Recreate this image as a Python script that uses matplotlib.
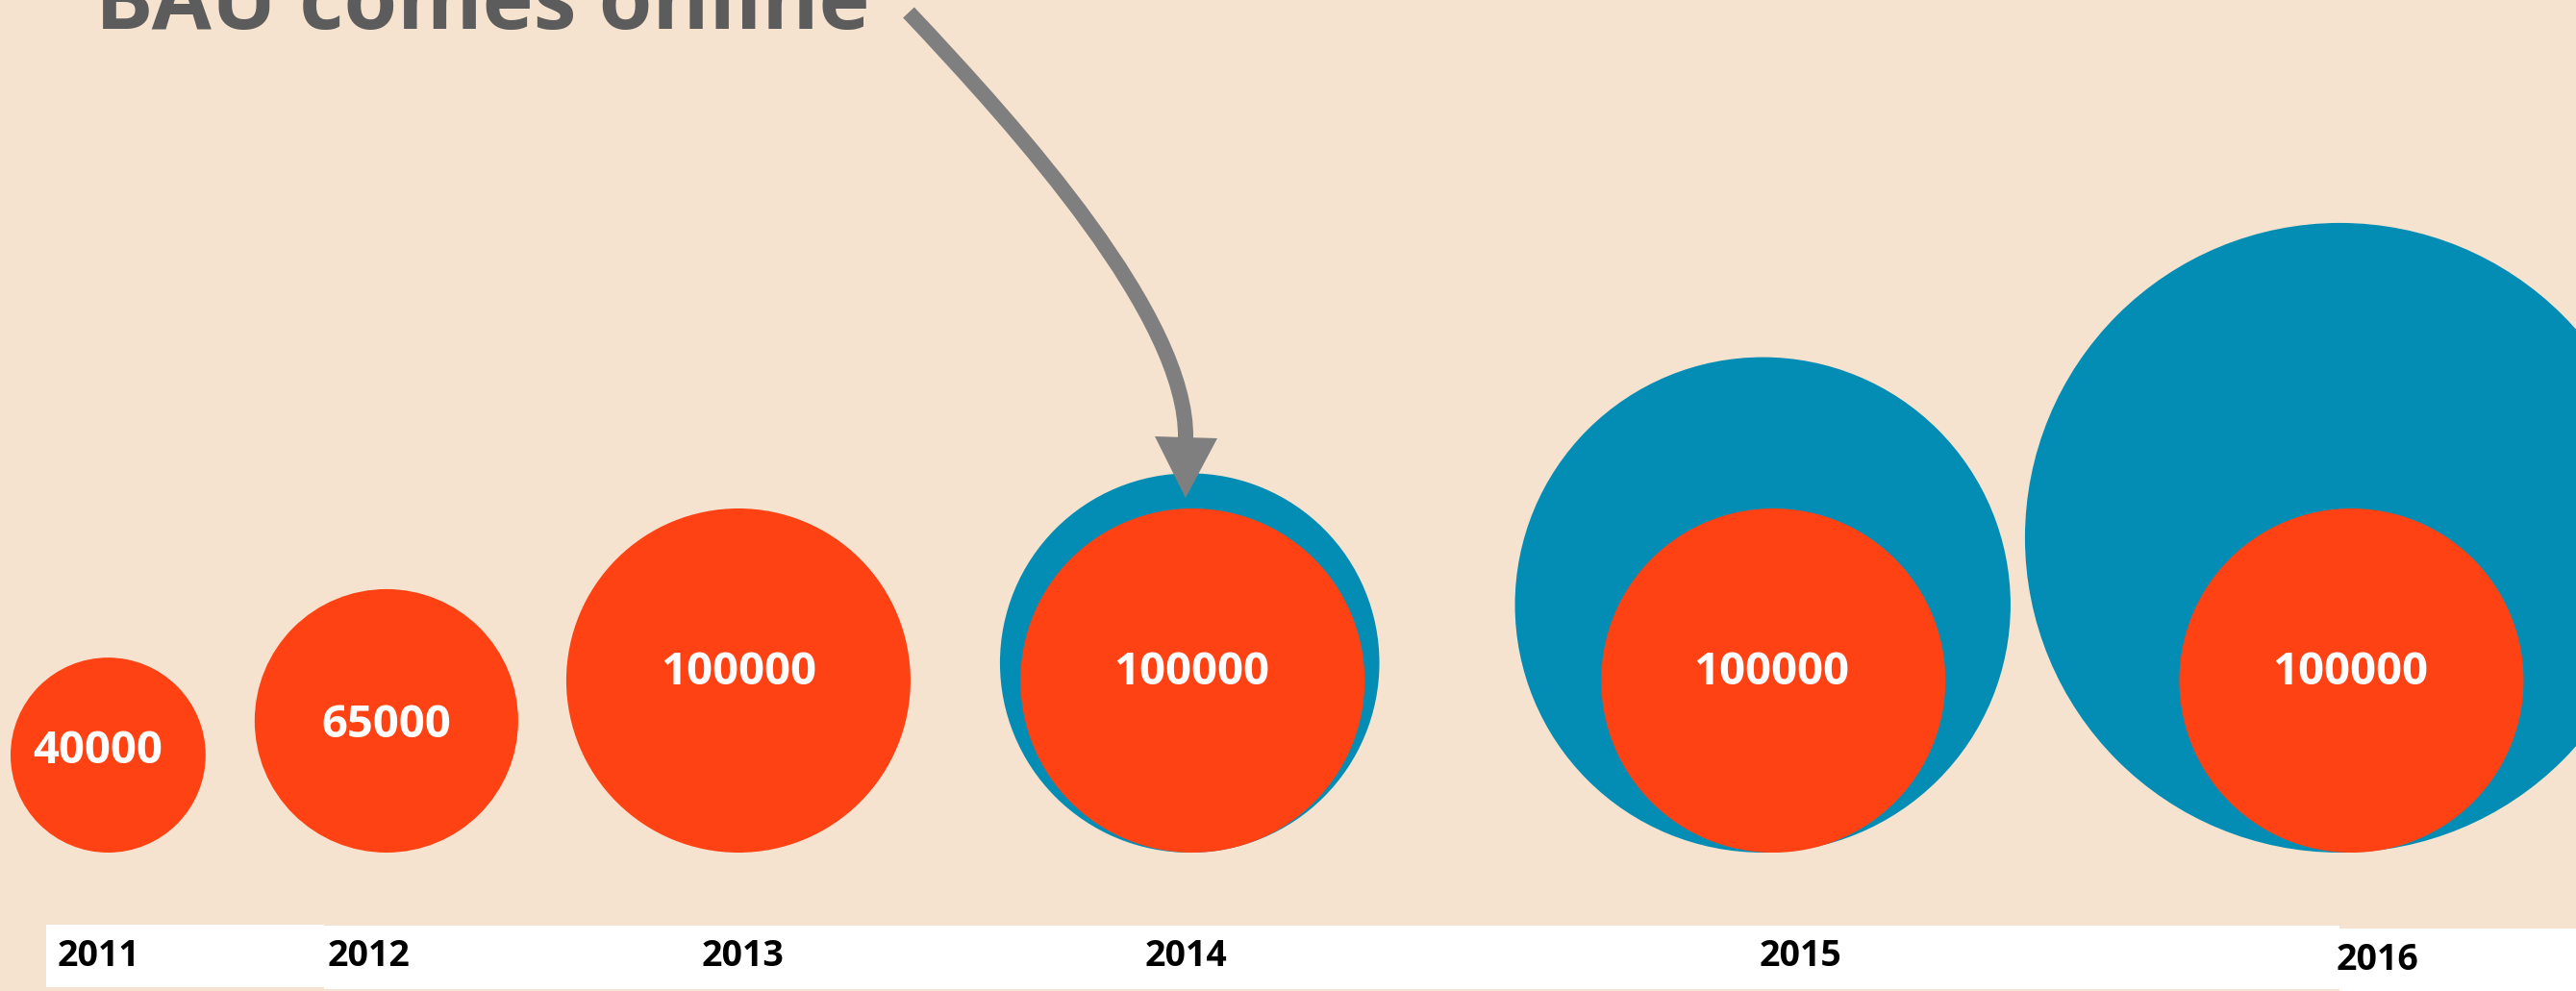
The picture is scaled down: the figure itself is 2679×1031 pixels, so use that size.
import matplotlib
matplotlib.use("Agg")
import matplotlib.pyplot as plt
from matplotlib.path import Path
from matplotlib.patches import PathPatch, Polygon, Rectangle
import numpy as np

# ---------------- data ----------------
years = ["2011", "2012", "2013", "2014", "2015", "2016"]
actual = [40000, 65000, 100000, 100000, 100000, 100000]       # red circles (labelled)
bau = [None, None, None, 117000, 180000, 265000]               # blue BAU circles (estimated)
title = "BAU comes online"

# ---------------- style / layout ----------------
W, H, DPI = 2679, 1031, 100
BG = "#F5E3D0"
RED = "#FF4213"
BLUE = "#038DB5"
ARROW = "#7F7F7F"
TITLE_C = "#5C5C5C"
FONT = "Open Sans"

R_REF, V_REF, EXP = 179.0, 100000.0, 0.62   # radius scale (px) for value
BASE_Y = 887            # common bottom of circles
LEFT = 11               # left edge of first circle
GAPS = [51, 50, 93, 141, 15]
RED_DX = [0, 0, 0, 3, 11, 12]
LABEL_DX = [-11, 0, 0, -1, -2, -1]
LABEL_DY = [-4, 5, -9, -8, -8, -8]
YEAR_DX = [-10, -18, 5, -4, 39, 39]
YEAR_Y = [995, 995, 995, 995, 995, 999]


def radius(v):
    return R_REF * (v / V_REF) ** EXP


fig = plt.figure(figsize=(W / DPI, H / DPI), dpi=DPI, facecolor=BG)
ax = fig.add_axes([0, 0, 1, 1])
ax.set_xlim(0, W)
ax.set_ylim(H, 0)
ax.set_facecolor(BG)
ax.axis("off")

# radii and packed positions
r_red = [radius(v) for v in actual]
r_blue = [radius(v) if v is not None else 0 for v in bau]
r_out = [max(a, b) for a, b in zip(r_red, r_blue)]
centers = []
x = LEFT
for i, r in enumerate(r_out):
    if i > 0:
        x += GAPS[i - 1]
    centers.append(x + r)
    x += 2 * r

px2pt = 72.0 / DPI

# blue BAU circles
bx = [c for c, v in zip(centers, bau) if v is not None]
br = [radius(v) for v in bau if v is not None]
ax.scatter(bx, [BASE_Y - r for r in br], s=[(2 * r * px2pt) ** 2 for r in br],
           c=BLUE, marker="o", linewidths=0, zorder=2)

# red actual circles
rx = [c + d for c, d in zip(centers, RED_DX)]
ry = [BASE_Y - r for r in r_red]
ax.scatter(rx, ry, s=[(2 * r * px2pt) ** 2 for r in r_red],
           c=RED, marker="o", linewidths=0, zorder=3)

for i, v in enumerate(actual):
    ax.text(rx[i] + LABEL_DX[i], ry[i] + LABEL_DY[i], f"{v}", color="white",
            fontsize=34, fontweight="bold", family=FONT,
            ha="center", va="center", zorder=4)

# white label band
ax.add_patch(Rectangle((48, 962), 289, 65, facecolor="white", edgecolor="none", zorder=1))
ax.add_patch(Rectangle((337, 963), 2096, 66, facecolor="white", edgecolor="none", zorder=1))
ax.add_patch(Rectangle((2433, 966), W - 2433, 70, facecolor="white", edgecolor="none", zorder=1))

for i, yr in enumerate(years):
    ax.text(centers[i] + YEAR_DX[i], YEAR_Y[i], yr, color="black", fontsize=27,
            fontweight="bold", family=FONT, ha="center", va="center", zorder=5)

# title (partly cut at top)
t = ax.text(99, 30, title, color=TITLE_C, fontsize=60, fontweight="bold",
            family=FONT, ha="left", va="baseline", zorder=5)
fig.canvas.draw()
bb = t.get_window_extent()
t.set_fontsize(60 * 807.0 / bb.width)

# curved arrow
verts = [(945, 13), (1060, 135), (1235, 330), (1233, 456)]
codes = [Path.MOVETO, Path.CURVE4, Path.CURVE4, Path.CURVE4]
ax.add_patch(PathPatch(Path(verts, codes), facecolor="none", edgecolor=ARROW,
                       lw=16 * px2pt, capstyle="butt", zorder=6))
ax.add_patch(Polygon([(1201, 454), (1266, 456), (1233, 518)], closed=True,
                     facecolor=ARROW, edgecolor="none", zorder=6))

fig.savefig("out.png", dpi=DPI, facecolor=BG)
